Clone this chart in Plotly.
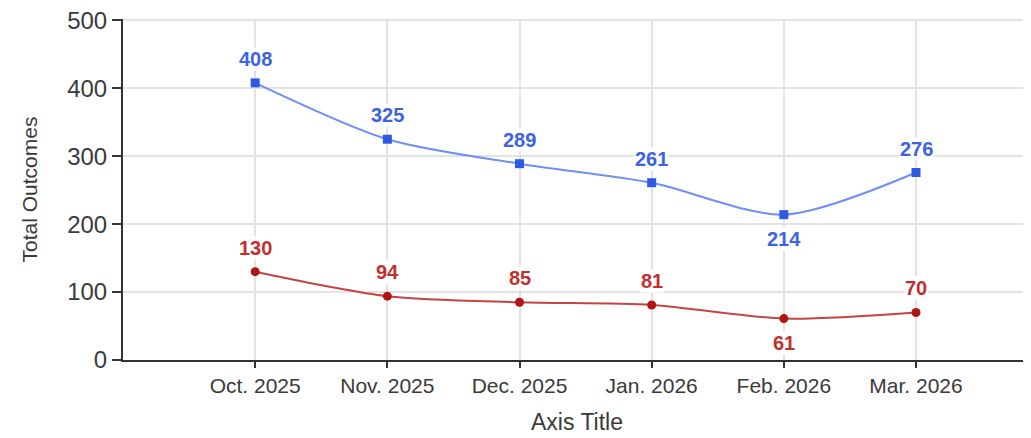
import plotly.graph_objects as go

months = ["Oct. 2025", "Nov. 2025", "Dec. 2025", "Jan. 2026", "Feb. 2026", "Mar. 2026"]
blue_vals = [408, 325, 289, 261, 214, 276]
red_vals = [130, 94, 85, 81, 61, 70]
y_ticks = [0, 100, 200, 300, 400, 500]

fig = go.Figure()

fig.add_trace(go.Scatter(x=months, y=blue_vals, mode="lines+markers",
                         line=dict(color="#6f8ff5", width=2, shape="spline", smoothing=0.8),
                         marker=dict(symbol="square", size=9, color="#2d59e3"),
                         showlegend=False))
fig.add_trace(go.Scatter(x=months, y=red_vals, mode="lines+markers",
                         line=dict(color="#c44444", width=2, shape="spline", smoothing=0.8),
                         marker=dict(symbol="circle", size=9, color="#b01515"),
                         showlegend=False))

# data labels with white background, below the lowest point, above otherwise
for vals, col in [(blue_vals, "#3b63e6"), (red_vals, "#c0302c")]:
    low = min(vals)
    for m, v in zip(months, vals):
        fig.add_annotation(x=m, y=v, text="<b>%d</b>" % v, showarrow=False,
                           yshift=-24 if v == low else 24,
                           bgcolor="white", borderpad=0,
                           font=dict(family="Liberation Sans, Arial", size=20, color=col))

# page body adds 8px, so the figure is a bit smaller than the window
fig.update_layout(
    width=1023, height=430,
    margin=dict(l=115, r=0, t=11, b=78),
    paper_bgcolor="white", plot_bgcolor="white",
    font=dict(family="Liberation Sans, Arial", color="#3a3a3a"),
)
fig.update_xaxes(type="category", range=[-1, 5.87], automargin=False,
                 showline=True, linecolor="#333333", linewidth=2,
                 showgrid=True, gridcolor="#e3e3e3", gridwidth=2,
                 ticks="outside", ticklen=6, tickwidth=2, tickcolor="#333333",
                 tickfont=dict(size=21),
                 title=dict(text="Axis Title", font=dict(size=23), standoff=18))
fig.update_yaxes(range=[0, 502], tickvals=y_ticks, automargin=False,
                 ticklabeloverflow="allow",
                 showline=True, linecolor="#333333", linewidth=2,
                 showgrid=True, gridcolor="#e3e3e3", gridwidth=2,
                 zeroline=False,
                 ticks="outside", ticklen=9, tickwidth=2, tickcolor="#333333",
                 tickfont=dict(size=24),
                 title=dict(text="Total Outcomes", font=dict(size=21), standoff=24))

fig.write_html("out.html")
